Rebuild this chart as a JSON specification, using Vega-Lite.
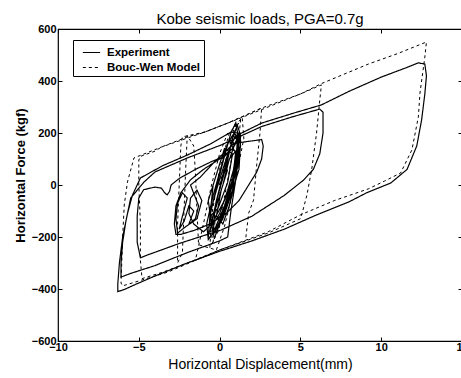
{
"$schema":"https://vega.github.io/schema/vega-lite/v6.json",
"width":404,"height":312,
"autosize":{"type":"none"},
"padding":{"left":58,"top":29,"right":0,"bottom":37},
"title":{"text":"Kobe seismic loads, PGA=0.7g","font":"Liberation Sans","fontSize":15,"fontWeight":"normal","color":"black","offset":-4},
"config":{"view":{"stroke":"black","strokeWidth":1.2},"background":"white",
"axis":{"grid":false,"domain":false,"tickColor":"black","tickSize":-4,"labelFlush":false,"labelOverlap":false,"labelFont":"Liberation Sans","labelFontWeight":"bold","labelFontSize":11,"labelColor":"black","titleFont":"Liberation Sans","titleColor":"black"}},
"resolve":{"axis":{"x":"independent","y":"independent"}},
"datasets":{
"E":[{"x":0,"y":0},{"x":0.5,"y":80},{"x":0.9,"y":150},{"x":1.1,"y":170},{"x":1.0,"y":90},{"x":0.5,"y":-20},{"x":0,"y":-110},{"x":-0.5,"y":-160},{"x":-0.6,"y":-110},{"x":-0.2,"y":-20},{"x":0.3,"y":80},{"x":0.8,"y":170},{"x":1.2,"y":200},{"x":1.3,"y":150},{"x":1.0,"y":50},{"x":0.5,"y":-60},{"x":0,"y":-140},{"x":-0.4,"y":-190},{"x":-0.5,"y":-140},{"x":-0.1,"y":-40},{"x":0.4,"y":70},{"x":0.8,"y":180},{"x":1.1,"y":230},{"x":1.3,"y":190},{"x":1.2,"y":90},{"x":0.7,"y":-20},{"x":0.2,"y":-120},{"x":-0.3,"y":-200},{"x":-0.7,"y":-200},{"x":-0.6,"y":-120},{"x":-0.2,"y":-10},{"x":0.3,"y":110},{"x":0.7,"y":200},{"x":1.0,"y":240},{"x":1.2,"y":170},{"x":0.9,"y":40},{"x":0.3,"y":-80},{"x":-0.3,"y":-170},{"x":-0.6,"y":-180},{"x":-0.2,"y":-60},{"x":0.3,"y":60},{"x":0.7,"y":150},{"x":1.0,"y":190},{"x":1.2,"y":140},{"x":0.9,"y":30},{"x":0.4,"y":-70},{"x":-0.1,"y":-160},{"x":-0.7,"y":-210},{"x":-0.8,"y":-150},{"x":-0.4,"y":-40},{"x":0.1,"y":70},{"x":0.5,"y":160},{"x":0.9,"y":200},{"x":1.3,"y":170},{"x":1.2,"y":60},{"x":0.7,"y":-40},{"x":0.2,"y":-130},{"x":-0.4,"y":-190},{"x":-0.3,"y":-100},{"x":0.2,"y":0},{"x":0.6,"y":100},{"x":1.0,"y":130},{"x":0.8,"y":20},{"x":0.3,"y":-60},{"x":-0.5,"y":-150},{"x":-0.7,"y":-60},{"x":-0.2,"y":40},{"x":0.3,"y":140},{"x":0.8,"y":120},{"x":0.5,"y":10},{"x":-0.1,"y":-90},{"x":-0.6,"y":-120},{"x":-0.4,"y":0},{"x":0.1,"y":100},{"x":0.6,"y":170},{"x":1.1,"y":110},{"x":0.8,"y":-20},{"x":0.2,"y":-110},{"x":-0.5,"y":-150},{"x":-1.0,"y":-180},{"x":-1.6,"y":-150},{"x":-1.9,"y":-110},{"x":-1.8,"y":-50},{"x":-1.4,"y":-20},{"x":-1.1,"y":-60},{"x":-1.4,"y":-130},{"x":-2.2,"y":-165},{"x":-2.6,"y":-185},{"x":-2.7,"y":-130},{"x":-2.6,"y":-70},{"x":-2.3,"y":-30},{"x":-2.0,"y":-50},{"x":-2.3,"y":-120},{"x":-2.5,"y":-170},{"x":-2.2,"y":-140},{"x":-1.9,"y":-80},{"x":-1.6,"y":-100},{"x":-1.9,"y":-150},{"x":-1.5,"y":-130},{"x":-1.3,"y":-80},{"x":-1.8,"y":0},{"x":-1.2,"y":30},{"x":-0.3,"y":90},{"x":0.9,"y":160},{"x":1.8,"y":168},{"x":2.3,"y":172},{"x":2.6,"y":175},{"x":2.7,"y":150},{"x":2.6,"y":100},{"x":2.3,"y":50},{"x":1.8,"y":0},{"x":1.2,"y":-60},{"x":0.4,"y":-110},{"x":-0.6,"y":-150},{"x":-1.6,"y":-175},{"x":-2.4,"y":-190},{"x":-2.7,"y":-190},{"x":-2.8,"y":-150},{"x":-2.7,"y":-80},{"x":-2.4,"y":-30},{"x":-1.8,"y":20},{"x":-1.0,"y":60},{"x":0,"y":100},{"x":0.8,"y":140},{"x":1.1,"y":120},{"x":1.0,"y":20},{"x":0.7,"y":-100},{"x":0.5,"y":-200},{"x":0,"y":-215},{"x":-2,"y":-260},{"x":-4,"y":-310},{"x":-5.5,"y":-340},{"x":-6.1,"y":-354},{"x":-6.1,"y":-300},{"x":-6.0,"y":-220},{"x":-5.8,"y":-140},{"x":-5.5,"y":-50},{"x":-4.7,"y":10},{"x":-4,"y":50},{"x":-2,"y":104},{"x":0.1,"y":154},{"x":2.6,"y":225},{"x":4.5,"y":262},{"x":5.8,"y":285},{"x":6.2,"y":292},{"x":6.4,"y":280},{"x":6.4,"y":200},{"x":6.2,"y":120},{"x":5.8,"y":60},{"x":5.2,"y":19},{"x":4,"y":-40},{"x":2,"y":-120},{"x":0.1,"y":-173},{"x":-2.5,"y":-225},{"x":-4.5,"y":-270},{"x":-4.9,"y":-280},{"x":-5.1,"y":-220},{"x":-5.1,"y":-120},{"x":-5.0,"y":-50},{"x":-4.7,"y":-18},{"x":-4.0,"y":-8},{"x":-3.6,"y":-12},{"x":-3.4,"y":-30},{"x":-3.25,"y":-38},{"x":-3.1,"y":-25},{"x":-3.0,"y":0},{"x":-2.5,"y":25},{"x":-1.5,"y":60},{"x":-0.5,"y":90},{"x":0.3,"y":110},{"x":0.8,"y":140},{"x":1.1,"y":180},{"x":1.2,"y":195},{"x":2.6,"y":238},{"x":4.5,"y":275},{"x":6.3,"y":308},{"x":8,"y":360},{"x":10,"y":415},{"x":11.5,"y":450},{"x":12.3,"y":470},{"x":12.7,"y":465},{"x":12.8,"y":420},{"x":12.7,"y":350},{"x":12.5,"y":250},{"x":12.2,"y":150},{"x":11.6,"y":60},{"x":10.6,"y":8},{"x":9.1,"y":-30},{"x":8.0,"y":-65},{"x":6.0,"y":-115},{"x":4.0,"y":-170},{"x":2.0,"y":-215},{"x":0,"y":-255},{"x":-2,"y":-300},{"x":-4,"y":-350},{"x":-5.3,"y":-385},{"x":-5.9,"y":-402},{"x":-6.3,"y":-410},{"x":-6.3,"y":-380},{"x":-6.2,"y":-300},{"x":-6.0,"y":-200},{"x":-5.7,"y":-110},{"x":-5.4,"y":-40},{"x":-4.9,"y":27},{"x":-3.5,"y":75},{"x":-2,"y":115},{"x":-0.5,"y":160},{"x":0.7,"y":204},{"x":1.1,"y":200},{"x":1.2,"y":120},{"x":1.0,"y":20},{"x":0.6,"y":-80},{"x":0.2,"y":-150},{"x":-0.2,"y":-120},{"x":0.1,"y":-20},{"x":0.5,"y":60}],
"D":[{"x":0,"y":0},{"x":0.5,"y":120},{"x":0.9,"y":220},{"x":1.0,"y":240},{"x":0.8,"y":120},{"x":0.2,"y":-80},{"x":-0.3,"y":-200},{"x":-0.4,"y":-220},{"x":-0.2,"y":-80},{"x":0.4,"y":100},{"x":1.1,"y":230},{"x":1.3,"y":250},{"x":1.1,"y":130},{"x":0.5,"y":-50},{"x":-0.1,"y":-180},{"x":-0.6,"y":-240},{"x":-0.5,"y":-120},{"x":0.0,"y":60},{"x":0.6,"y":200},{"x":1.4,"y":260},{"x":1.5,"y":180},{"x":1.0,"y":20},{"x":0.3,"y":-160},{"x":-0.2,"y":-250},{"x":-1.3,"y":-230},{"x":-1.4,"y":-100},{"x":-1.5,"y":50},{"x":-1.6,"y":150},{"x":-2.0,"y":190},{"x":-2.1,"y":60},{"x":-2.2,"y":-100},{"x":-2.3,"y":-260},{"x":-2.6,"y":-300},{"x":-2.6,"y":-150},{"x":-2.5,"y":0},{"x":-2.4,"y":150},{"x":-2.3,"y":185},{"x":-0.9,"y":204},{"x":0.5,"y":238},{"x":1.5,"y":265},{"x":2.6,"y":296},{"x":2.5,"y":200},{"x":2.3,"y":80},{"x":2.1,"y":-58},{"x":1.8,"y":-108},{"x":1.6,"y":-215},{"x":0,"y":-250},{"x":-2,"y":-300},{"x":-3.5,"y":-335},{"x":-4.8,"y":-360},{"x":-4.9,"y":-290},{"x":-4.9,"y":-150},{"x":-5.0,"y":0},{"x":-5.0,"y":96},{"x":-4.9,"y":110},{"x":-4.0,"y":130},{"x":-3.6,"y":146},{"x":-2,"y":185},{"x":-0.9,"y":204},{"x":0.5,"y":238},{"x":2.6,"y":296},{"x":5,"y":350},{"x":6.3,"y":385},{"x":6.2,"y":327},{"x":6.0,"y":200},{"x":5.7,"y":60},{"x":5.4,"y":-40},{"x":5.1,"y":-110},{"x":5.0,"y":-130},{"x":3,"y":-185},{"x":0,"y":-250},{"x":-3.2,"y":-335},{"x":-6.0,"y":-388},{"x":-6.1,"y":-377},{"x":-6.0,"y":-200},{"x":-5.9,"y":-77},{"x":-5.7,"y":12},{"x":-5.3,"y":104},{"x":-3.6,"y":146},{"x":-0.9,"y":204},{"x":0.5,"y":238},{"x":2.6,"y":290},{"x":5,"y":350},{"x":6.3,"y":390},{"x":9.2,"y":465},{"x":11,"y":505},{"x":12.8,"y":550},{"x":12.7,"y":492},{"x":12.4,"y":354},{"x":12.3,"y":262},{"x":11.9,"y":135},{"x":11.2,"y":46},{"x":10.2,"y":15},{"x":9.2,"y":-15},{"x":7.1,"y":-60},{"x":5,"y":-115},{"x":3,"y":-180},{"x":0,"y":-250},{"x":-1.5,"y":-290},{"x":-1.0,"y":-150},{"x":-0.5,"y":0},{"x":0,"y":120},{"x":0.5,"y":200}]
},
"layer":[
{"data":{"name":"E"},
"transform":[{"window":[{"op":"row_number","as":"i"}]}],
"mark":{"type":"line","color":"black","strokeWidth":1.2},
"encoding":{
"x":{"field":"x","type":"quantitative","scale":{"domain":[-10,15],"nice":false,"zero":false},"axis":{"values":[-10,-5,0,5,10,15],"title":"Horizontal Displacement(mm)","titleFontSize":14,"titleFontWeight":"normal","labelPadding":4,"titleY":16,"titleBaseline":"top"}},
"y":{"field":"y","type":"quantitative","scale":{"domain":[-600,600],"nice":false},"axis":{"values":[-600,-400,-200,0,200,400,600],"title":"Horizontal Force (kgf)","titleFontSize":13,"titleFontWeight":"bold","labelPadding":6,"titleX":-31,"titleY":146}},
"order":{"field":"i","type":"quantitative"},
"strokeDash":{"datum":"Experiment","type":"nominal","scale":{"domain":["Experiment","Bouc-Wen Model"],"range":[[1,0],[3,3]]},"legend":{"title":null,"orient":"none","legendX":15,"legendY":11,"padding":3,"symbolOffset":6,"symbolType":"stroke","symbolSize":300,"symbolStrokeColor":"black","symbolStrokeWidth":1.2,"labelFont":"Liberation Sans","labelFontSize":11.5,"labelFontWeight":"bold","labelColor":"black","fillColor":"white","strokeColor":"black","rowPadding":-4,"labelOffset":6}}
}},
{"data":{"name":"D"},
"transform":[{"window":[{"op":"row_number","as":"i"}]}],
"mark":{"type":"line","color":"black","strokeWidth":1},
"encoding":{
"x":{"field":"x","type":"quantitative","axis":{"orient":"top","values":[-10,-5,0,5,10,15],"labels":false,"title":null}},
"y":{"field":"y","type":"quantitative","axis":{"orient":"right","values":[-600,-400,-200,0,200,400,600],"labels":false,"title":null}},
"order":{"field":"i","type":"quantitative"},
"strokeDash":{"datum":"Bouc-Wen Model","type":"nominal"}
}}
]
}
